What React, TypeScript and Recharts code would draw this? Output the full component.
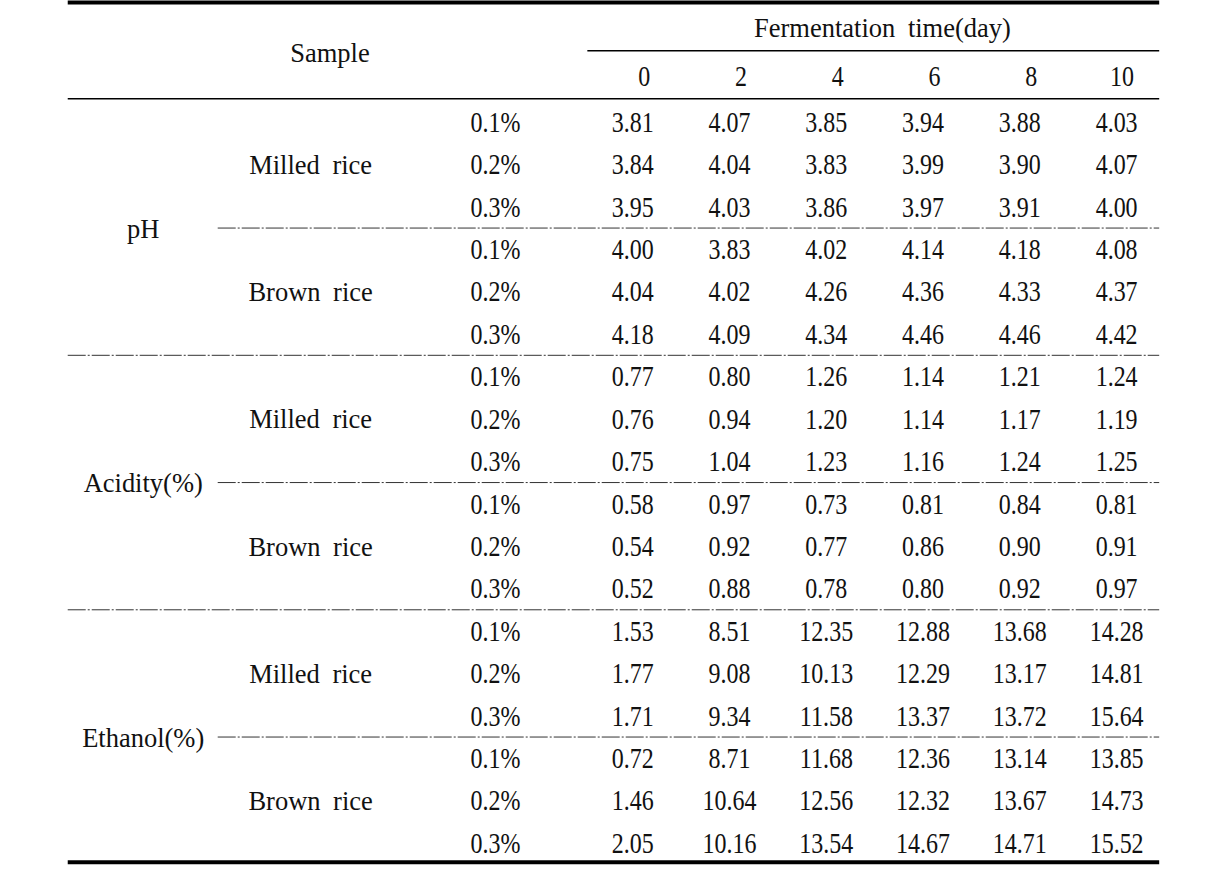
import React from 'react';
import { ScatterChart, Scatter, XAxis, YAxis, ReferenceLine } from 'recharts';

// table content
const days = ['0', '2', '4', '6', '8', '10'];
const concentrations = ['0.1%', '0.2%', '0.3%'];
const measures = ['pH', 'Acidity(%)', 'Ethanol(%)'];
const samples = ['Milled rice', 'Brown rice'];

const phMilled = [
  [3.81, 4.07, 3.85, 3.94, 3.88, 4.03],
  [3.84, 4.04, 3.83, 3.99, 3.9, 4.07],
  [3.95, 4.03, 3.86, 3.97, 3.91, 4.0],
];
const phBrown = [
  [4.0, 3.83, 4.02, 4.14, 4.18, 4.08],
  [4.04, 4.02, 4.26, 4.36, 4.33, 4.37],
  [4.18, 4.09, 4.34, 4.46, 4.46, 4.42],
];
const acidityMilled = [
  [0.77, 0.8, 1.26, 1.14, 1.21, 1.24],
  [0.76, 0.94, 1.2, 1.14, 1.17, 1.19],
  [0.75, 1.04, 1.23, 1.16, 1.24, 1.25],
];
const acidityBrown = [
  [0.58, 0.97, 0.73, 0.81, 0.84, 0.81],
  [0.54, 0.92, 0.77, 0.86, 0.9, 0.91],
  [0.52, 0.88, 0.78, 0.8, 0.92, 0.97],
];
const ethanolMilled = [
  [1.53, 8.51, 12.35, 12.88, 13.68, 14.28],
  [1.77, 9.08, 10.13, 12.29, 13.17, 14.81],
  [1.71, 9.34, 11.58, 13.37, 13.72, 15.64],
];
const ethanolBrown = [
  [0.72, 8.71, 11.68, 12.36, 13.14, 13.85],
  [1.46, 10.64, 12.56, 12.32, 13.67, 14.73],
  [2.05, 10.16, 13.54, 14.67, 14.71, 15.52],
];

const blocks = [
  [phMilled, phBrown],
  [acidityMilled, acidityBrown],
  [ethanolMilled, ethanolBrown],
];

// layout in table units: x = value column index, y = row index
const COL_MEASURE = -5.06;
const COL_SAMPLE = -3.33;
const COL_SAMPLE_HEAD = -3.13;
const COL_CONC = -1.42;
const COL_TITLE = 2.58;
const DAY_HEAD_SHIFT = 0.18;
const HEAD_TITLE_Y = -2.22;
const HEAD_DAYS_Y = -1.08;
const HEAD_SAMPLE_Y = -1.65;
const TABLE_LEFT = -5.84;
const TABLE_RIGHT = 5.44;
const INDENT_LEFT = -4.29;
const SUBHEAD_LEFT = -0.47;

type Cell = { x: number; y: number; label: string; kind: 'word' | 'num'; anchor?: 'middle' | 'end' };

const cells: Cell[] = [];
cells.push({ x: COL_SAMPLE_HEAD, y: HEAD_SAMPLE_Y, label: 'Sample', kind: 'word' });
cells.push({ x: COL_TITLE, y: HEAD_TITLE_Y, label: 'Fermentation time(day)', kind: 'word' });
days.forEach((d, i) =>
  cells.push({ x: i + DAY_HEAD_SHIFT, y: HEAD_DAYS_Y, label: d, kind: 'num', anchor: 'end' })
);

blocks.forEach((pair, m) => {
  cells.push({ x: COL_MEASURE, y: m * 6 + 2.5, label: measures[m], kind: 'word' });
  pair.forEach((rows, s) => {
    const base = m * 6 + s * 3;
    cells.push({ x: COL_SAMPLE, y: base + 1, label: samples[s], kind: 'word' });
    rows.forEach((vals, r) => {
      cells.push({ x: COL_CONC, y: base + r, label: concentrations[r], kind: 'num' });
      vals.forEach((v, c) => cells.push({ x: c, y: base + r, label: v.toFixed(2), kind: 'num' }));
    });
  });
});

const FONT = "'Liberation Serif', 'DejaVu Serif', serif";

// the source uses tall, narrow digits: stretch number cells vertically
const CellText = (props: any) => {
  const { cx, cy, payload } = props;
  const isNum = payload.kind === 'num';
  return (
    <g transform={`translate(${cx},${cy}) scale(1,${isNum ? 1.2 : 1.05})`}>
      <text
        x={0}
        y={0}
        dy="0.34em"
        textAnchor={payload.anchor || 'middle'}
        fontFamily={FONT}
        fontSize={isNum ? 24 : 26.5}
        fill="#111"
        style={{ wordSpacing: 6 }}
      >
        {payload.label}
      </text>
    </g>
  );
};

const dashDot = '18 2 2 2';

export default function App() {
  const hLine = (y: number, x1: number, x2: number, kind: 'thick' | 'thin' | 'dash') => (
    <ReferenceLine
      key={`${y}-${x1}`}
      segment={[{ x: x1, y }, { x: x2, y }]}
      stroke={kind === 'dash' ? '#333' : '#000'}
      strokeWidth={kind === 'thick' ? 4 : kind === 'thin' ? 1.4 : 1}
      strokeDasharray={kind === 'dash' ? dashDot : undefined}
      ifOverflow="extendDomain"
    />
  );

  return (
    <div style={{ position: 'absolute', top: 0, left: 0, width: 1225, height: 891, background: '#fff' }}>
      <ScatterChart width={1225} height={891} margin={{ top: 0, right: 0, bottom: 0, left: 0 }}>
        <XAxis type="number" dataKey="x" domain={[-6.54, 6.12]} hide allowDataOverflow />
        <YAxis type="number" dataKey="y" domain={[-2.877, 18.13]} reversed hide allowDataOverflow />
        {hLine(-2.82, TABLE_LEFT, TABLE_RIGHT, 'thick')}
        {hLine(-1.68, SUBHEAD_LEFT, TABLE_RIGHT, 'thin')}
        {hLine(-0.55, TABLE_LEFT, TABLE_RIGHT, 'thin')}
        {hLine(2.5, INDENT_LEFT, TABLE_RIGHT, 'dash')}
        {hLine(5.5, TABLE_LEFT, TABLE_RIGHT, 'dash')}
        {hLine(8.5, INDENT_LEFT, TABLE_RIGHT, 'dash')}
        {hLine(11.5, TABLE_LEFT, TABLE_RIGHT, 'dash')}
        {hLine(14.5, INDENT_LEFT, TABLE_RIGHT, 'dash')}
        {hLine(17.45, TABLE_LEFT, TABLE_RIGHT, 'thick')}
        <Scatter data={cells} shape={CellText} isAnimationActive={false} />
      </ScatterChart>
    </div>
  );
}
